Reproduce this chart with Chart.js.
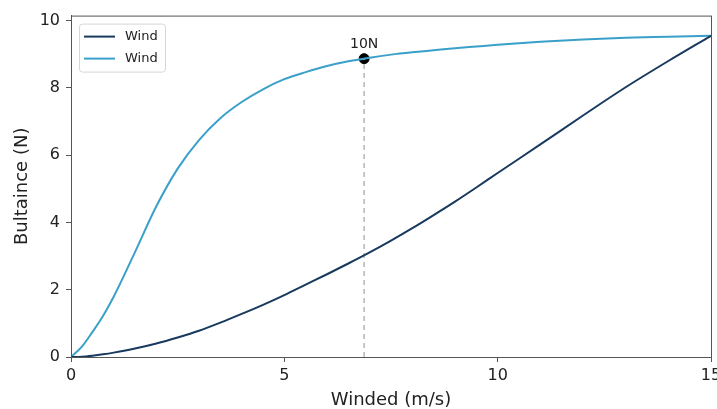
<!DOCTYPE html>
<html>
<head>
<meta charset="utf-8">
<script src="https://cdn.jsdelivr.net/npm/chart.js@4.4.1/dist/chart.umd.min.js"></script>
<style>
  body { margin: 0; background: #fff; }
  canvas { display: block; }
</style>
</head>
<body>
<canvas id="chart" width="717" height="409"></canvas>
<script>
// wind speed samples (m/s)
const windSpeed = [0, 0.25, 0.5, 0.75, 1, 1.5, 2, 2.5, 3, 3.5, 4, 4.5, 5, 5.5, 6, 6.5, 7, 7.5, 8, 8.5, 9, 9.5, 10, 11, 12, 13, 14, 15];
// dark series
const windDark = [0, 0.01, 0.04, 0.08, 0.13, 0.25, 0.4, 0.58, 0.78, 1.02, 1.28, 1.55, 1.84, 2.15, 2.46, 2.78, 3.11, 3.46, 3.83, 4.22, 4.62, 5.04, 5.47, 6.32, 7.18, 8.02, 8.8, 9.55];
// light series
const windLight = [0, 0.3, 0.74, 1.22, 1.79, 3.12, 4.48, 5.6, 6.45, 7.1, 7.58, 7.96, 8.26, 8.47, 8.65, 8.79, 8.9, 8.99, 9.06, 9.12, 9.18, 9.23, 9.28, 9.37, 9.44, 9.49, 9.52, 9.55];

const marker = { x: 6.87, y: 8.87, label: "10N" };
const xTicks = [0, 5, 10, 15];
const yTicks = [0, 2, 4, 6, 8, 10];
const legendLabels = ["Wind", "Wind"];

const darkColor = "#173a5e";
const lightColor = "#3aa0c9";
const font = "'DejaVu Sans', sans-serif";

const toPoints = (ys) => windSpeed.map((x, i) => ({ x: x, y: ys[i] }));

const extras = {
  id: "extras",
  afterDraw: (chart) => {
    const ctx = chart.ctx;
    const area = chart.chartArea;
    const xs = chart.scales.x;
    const ys = chart.scales.y;

    // frame around the plot
    ctx.save();
    ctx.strokeStyle = "#555";
    ctx.lineWidth = 1;
    ctx.strokeRect(area.left + 0.5, area.top + 0.5, area.right - area.left, area.bottom - area.top);

    // marker label
    ctx.fillStyle = "#222";
    ctx.font = "14px " + font;
    ctx.textAlign = "center";
    ctx.textBaseline = "bottom";
    ctx.fillText(marker.label, xs.getPixelForValue(marker.x), ys.getPixelForValue(marker.y) - 7);

    // legend box
    const lx = area.left + 8;
    const ly = area.top + 8;
    ctx.fillStyle = "rgba(255,255,255,0.9)";
    ctx.strokeStyle = "#d6d6d6";
    ctx.beginPath();
    ctx.roundRect(lx + 0.5, ly + 0.5, 86, 48, 3);
    ctx.fill();
    ctx.stroke();
    const colors = [darkColor, lightColor];
    ctx.font = "13px " + font;
    ctx.textAlign = "left";
    ctx.textBaseline = "middle";
    legendLabels.forEach((label, i) => {
      const yy = ly + 13 + i * 22;
      ctx.strokeStyle = colors[i];
      ctx.lineWidth = 2;
      ctx.beginPath();
      ctx.moveTo(lx + 5, yy);
      ctx.lineTo(lx + 36, yy);
      ctx.stroke();
      ctx.fillStyle = "#222";
      ctx.fillText(label, lx + 46, yy);
    });
    ctx.restore();
  },
};

new Chart(document.getElementById("chart"), {
  type: "scatter",
  data: {
    datasets: [
      {
        label: legendLabels[0],
        data: toPoints(windDark),
        showLine: true,
        borderColor: darkColor,
        borderWidth: 2,
        pointRadius: 0,
        cubicInterpolationMode: "monotone",
      },
      {
        label: legendLabels[1],
        data: toPoints(windLight),
        showLine: true,
        borderColor: lightColor,
        borderWidth: 2,
        pointRadius: 0,
        cubicInterpolationMode: "monotone",
      },
      {
        label: "guide",
        data: [{ x: marker.x, y: 0 }, { x: marker.x, y: marker.y }],
        showLine: true,
        borderColor: "#b5b5b5",
        borderWidth: 1.5,
        borderDash: [5, 4],
        pointRadius: 0,
      },
      {
        label: "marker",
        data: [{ x: marker.x, y: marker.y }],
        backgroundColor: "#000",
        borderColor: "#000",
        pointRadius: 5,
      },
    ],
  },
  options: {
    responsive: false,
    animation: false,
    layout: { padding: { left: 8, right: 4, top: 15, bottom: 0 } },
    plugins: {
      legend: { display: false },
      tooltip: { enabled: false },
    },
    scales: {
      x: {
        type: "linear",
        min: 0,
        max: 15,
        afterBuildTicks: (scale) => { scale.ticks = xTicks.map((v) => ({ value: v })); },
        afterFit: (scale) => {
          scale.height = 52;
          scale.paddingRight = 0;
          scale.paddingLeft = 0;
        },
        grid: { drawOnChartArea: false, drawTicks: true, tickLength: 5, color: "#555" },
        border: { color: "#555" },
        ticks: { color: "#222", font: { family: font, size: 16 }, padding: 4, maxRotation: 0 },
        title: { display: true, text: "Winded (m/s)", color: "#222", font: { family: font, size: 18 }, padding: { top: 0, bottom: -2 } },
      },
      y: {
        min: 0,
        max: 10.15,
        afterBuildTicks: (scale) => { scale.ticks = yTicks.map((v) => ({ value: v })); },
        afterFit: (scale) => { scale.width = 63; },
        grid: { drawOnChartArea: false, drawTicks: true, tickLength: 5, color: "#555" },
        border: { color: "#555" },
        ticks: { color: "#222", font: { family: font, size: 16 }, padding: 6 },
        title: { display: true, text: "Bultaince (N)", color: "#222", font: { family: font, size: 18 }, padding: { bottom: 4 } },
      },
    },
  },
  plugins: [extras],
});
</script>
</body>
</html>
